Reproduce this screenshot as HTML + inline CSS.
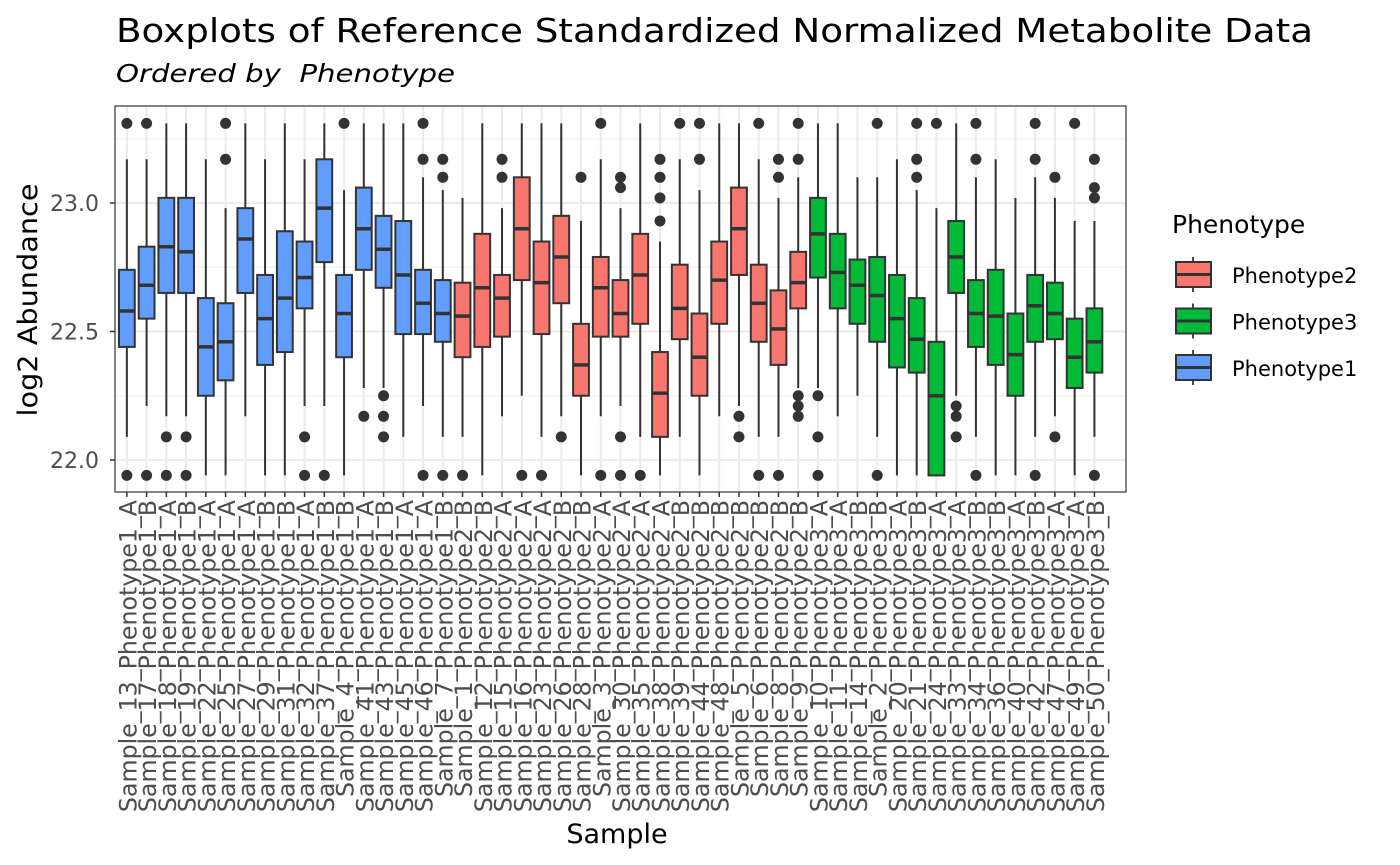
<!DOCTYPE html>
<html><head><meta charset="utf-8"><style>
body{margin:0;background:#fff;}
svg{display:block;font-family:"DejaVu Sans","Liberation Sans",sans-serif;}
</style></head><body>
<svg id="chart" width="1400" height="865" viewBox="0 0 1400 865" xmlns="http://www.w3.org/2000/svg">
<rect width="1400" height="865" fill="#fff"/>
<text x="116" y="42" font-size="32.5" textLength="1197" lengthAdjust="spacingAndGlyphs" fill="#000">Boxplots of Reference Standardized Normalized Metabolite Data</text>
<text x="116" y="82" font-size="25" font-style="italic" textLength="339" lengthAdjust="spacingAndGlyphs" fill="#000" xml:space="preserve">Ordered by  Phenotype</text>
<g id="grid"></g>
<g id="boxes"></g>
<rect x="115" y="106" width="1011" height="386" fill="none" stroke="#333" stroke-width="1.2"/>
<g id="yaxis"></g>
<g id="xaxis"></g>
<text transform="translate(37,300) rotate(-90)" text-anchor="middle" font-size="27" textLength="233" lengthAdjust="spacingAndGlyphs" fill="#000">log2 Abundance</text>
<text x="617" y="843" text-anchor="middle" font-size="27" fill="#000">Sample</text>
<g id="legend">
<text x="1172" y="233" font-size="25" fill="#000">Phenotype</text>
</g>
</svg>
<script>
const samples=["Sample_13_Phenotype1_A","Sample_17_Phenotype1_B","Sample_18_Phenotype1_A","Sample_19_Phenotype1_B","Sample_22_Phenotype1_A","Sample_25_Phenotype1_A","Sample_27_Phenotype1_A","Sample_29_Phenotype1_B","Sample_31_Phenotype1_B","Sample_32_Phenotype1_A","Sample_37_Phenotype1_B","Sample_4_Phenotype1_B","Sample_41_Phenotype1_A","Sample_43_Phenotype1_B","Sample_45_Phenotype1_A","Sample_46_Phenotype1_A","Sample_7_Phenotype1_B",
"Sample_1_Phenotype2_B","Sample_12_Phenotype2_B","Sample_15_Phenotype2_A","Sample_16_Phenotype2_A","Sample_23_Phenotype2_A","Sample_26_Phenotype2_B","Sample_28_Phenotype2_B","Sample_3_Phenotype2_A","Sample_30_Phenotype2_A","Sample_35_Phenotype2_A","Sample_38_Phenotype2_A","Sample_39_Phenotype2_B","Sample_44_Phenotype2_B","Sample_48_Phenotype2_B","Sample_5_Phenotype2_B","Sample_6_Phenotype2_B","Sample_8_Phenotype2_B","Sample_9_Phenotype2_B",
"Sample_10_Phenotype3_A","Sample_11_Phenotype3_A","Sample_14_Phenotype3_B","Sample_2_Phenotype3_B","Sample_20_Phenotype3_A","Sample_21_Phenotype3_B","Sample_24_Phenotype3_A","Sample_33_Phenotype3_A","Sample_34_Phenotype3_B","Sample_36_Phenotype3_B","Sample_40_Phenotype3_A","Sample_42_Phenotype3_B","Sample_47_Phenotype3_A","Sample_49_Phenotype3_A","Sample_50_Phenotype3_B"];
const phenotypes=["Phenotype1","Phenotype1","Phenotype1","Phenotype1","Phenotype1","Phenotype1","Phenotype1","Phenotype1","Phenotype1","Phenotype1","Phenotype1","Phenotype1","Phenotype1","Phenotype1","Phenotype1","Phenotype1","Phenotype1",
"Phenotype2","Phenotype2","Phenotype2","Phenotype2","Phenotype2","Phenotype2","Phenotype2","Phenotype2","Phenotype2","Phenotype2","Phenotype2","Phenotype2","Phenotype2","Phenotype2","Phenotype2","Phenotype2","Phenotype2","Phenotype2",
"Phenotype3","Phenotype3","Phenotype3","Phenotype3","Phenotype3","Phenotype3","Phenotype3","Phenotype3","Phenotype3","Phenotype3","Phenotype3","Phenotype3","Phenotype3","Phenotype3","Phenotype3"];
const whiskerLow=[22.09,22.21,22.17,22.17,21.94,21.94,22.17,21.94,21.94,22.21,22.21,21.94,22.28,22.28,22.09,22.21,22.09,
22.09,21.94,22.17,22.25,22.09,22.17,21.94,22.17,22.21,22.09,21.94,22.09,21.94,22.17,22.21,22.09,22.09,22.28,
22.28,22.17,22.25,22.09,21.94,21.94,21.94,22.25,22.09,21.94,21.94,22.09,22.17,21.94,22.09];
const q1=[22.44,22.55,22.65,22.65,22.25,22.31,22.65,22.37,22.42,22.59,22.77,22.40,22.74,22.67,22.49,22.49,22.46,
22.40,22.44,22.48,22.70,22.49,22.61,22.25,22.48,22.48,22.53,22.09,22.47,22.25,22.53,22.72,22.46,22.37,22.59,
22.71,22.59,22.53,22.46,22.36,22.34,21.94,22.65,22.44,22.37,22.25,22.46,22.47,22.28,22.34];
const medians=[22.58,22.68,22.83,22.81,22.44,22.46,22.86,22.55,22.63,22.71,22.98,22.57,22.90,22.82,22.72,22.61,22.57,
22.56,22.67,22.63,22.90,22.69,22.79,22.37,22.67,22.57,22.72,22.26,22.59,22.40,22.70,22.90,22.61,22.51,22.69,
22.88,22.73,22.68,22.64,22.55,22.47,22.25,22.79,22.57,22.56,22.41,22.60,22.57,22.40,22.46];
const q3=[22.74,22.83,23.02,23.02,22.63,22.61,22.98,22.72,22.89,22.85,23.17,22.72,23.06,22.95,22.93,22.74,22.70,
22.69,22.88,22.72,23.10,22.85,22.95,22.53,22.79,22.70,22.88,22.42,22.76,22.57,22.85,23.06,22.76,22.66,22.81,
23.02,22.88,22.78,22.79,22.72,22.63,22.46,22.93,22.70,22.74,22.57,22.72,22.69,22.55,22.59];
const whiskerHigh=[23.17,23.17,23.31,23.31,23.17,22.98,23.31,23.17,23.31,23.17,23.31,23.05,23.31,23.31,23.31,23.10,23.05,
23.02,23.31,22.98,23.31,23.31,23.31,22.93,23.17,22.98,23.31,22.85,23.17,23.05,23.31,23.31,23.17,23.02,23.10,
23.31,23.31,23.10,23.10,23.17,23.05,22.98,23.31,23.10,23.17,23.02,23.10,23.02,22.93,22.93];
const outliers=[[23.31,21.94],[23.31,21.94],[22.09,21.94],[22.09,21.94],[],[23.31,23.17],[],[],[],[22.09,21.94],[21.94],[23.31],[22.17],[22.25,22.17,22.09],[],[23.31,23.17,21.94],[23.17,23.10,21.94],
[21.94],[],[23.17,23.10],[21.94],[21.94],[22.09],[23.10],[23.31,21.94],[23.10,23.06,22.09,21.94],[21.94],[23.17,23.10,23.02,22.93],[23.31],[23.31,23.17],[],[22.17,22.09],[23.31,21.94],[23.17,23.10,21.94],[23.31,23.17,22.25,22.21,22.17],
[22.25,22.09,21.94],[],[],[23.31,21.94],[],[23.31,23.17,23.10],[23.31],[22.21,22.17,22.09],[23.31,23.17,21.94],[],[],[23.31,23.17,21.94],[23.10,22.09],[23.31],[23.17,23.06,23.02,21.94]];
const yTicks=[22.0,22.5,23.0];
const yTickLabels=["22.0","22.5","23.0"];
const yMinor=[22.25,22.75,23.25];
const legendOrder=["Phenotype2","Phenotype3","Phenotype1"];

const colors={Phenotype1:"#619CFF",Phenotype2:"#F8766D",Phenotype3:"#00BA38"};
const NS="http://www.w3.org/2000/svg";
const px0=115,px1=1126,pyTop=106,pyBot=492;
const n=samples.length;
const step=(px1-px0)/(n+1.2);
function xs(i){return px0+(0.6+i)*step;}
function ys(v){return 460-(v-22.0)*257;}
function mk(tag,attrs,parent){const e=document.createElementNS(NS,tag);for(const k in attrs)e.setAttribute(k,attrs[k]);parent.appendChild(e);return e;}
const grid=document.getElementById('grid');
mk('rect',{x:px0,y:pyTop,width:px1-px0,height:pyBot-pyTop,fill:'#fff'},grid);
yMinor.forEach(v=>{const l=mk('line',{x1:px0,x2:px1,y1:ys(v),y2:ys(v),stroke:'#f2f2f2','stroke-width':1.2},grid);

});
yTicks.forEach(v=>{const l=mk('line',{x1:px0,x2:px1,y1:ys(v),y2:ys(v),stroke:'#ebebeb','stroke-width':2},grid);

});
for(let i=0;i<n;i++){const l=mk('line',{x1:xs(i),x2:xs(i),y1:pyTop,y2:pyBot,stroke:'#ebebeb','stroke-width':2},grid);

}
const boxes=document.getElementById('boxes');
const bw=step*0.8;
for(let i=0;i<n;i++){
 const g=mk('g',{},boxes);
 
 
 const x=xs(i);
 mk('line',{x1:x,x2:x,y1:ys(whiskerHigh[i]),y2:ys(q3[i]),stroke:'#333','stroke-width':2},g);
 mk('line',{x1:x,x2:x,y1:ys(q1[i]),y2:ys(whiskerLow[i]),stroke:'#333','stroke-width':2},g);
 mk('rect',{x:x-bw/2,y:ys(q3[i]),width:bw,height:ys(q1[i])-ys(q3[i]),fill:colors[phenotypes[i]],stroke:'#333','stroke-width':2},g);
 mk('line',{x1:x-bw/2,x2:x+bw/2,y1:ys(medians[i]),y2:ys(medians[i]),stroke:'#333','stroke-width':3.5},g);
 outliers[i].forEach(v=>{const c=mk('circle',{cx:x,cy:ys(v),r:5.5,fill:'#333'},g);
 
 });
}
const ya=document.getElementById('yaxis');
yTicks.forEach((v,k)=>{mk('line',{x1:px0-5,x2:px0,y1:ys(v),y2:ys(v),stroke:'#333','stroke-width':1.5},ya);
 const t=mk('text',{x:px0-16,y:ys(v)+8,'text-anchor':'end','font-size':22,fill:'#4d4d4d'},ya);
 
 
 t.textContent=yTickLabels[k];});
const xa=document.getElementById('xaxis');
for(let i=0;i<n;i++){const x=xs(i);
 mk('line',{x1:x,x2:x,y1:pyBot,y2:pyBot+5,stroke:'#333','stroke-width':1.5},xa);
 const t=mk('text',{transform:`translate(${x+9.5},${pyBot+8}) rotate(-90)`,'text-anchor':'end','font-size':23.7,fill:'#4d4d4d'},xa);
 
 
 t.textContent=samples[i];}
const lg=document.getElementById('legend');
legendOrder.forEach((p,k)=>{const y0=257+k*46.5;
 const g=mk('g',{},lg);
 
 
 mk('line',{x1:1193,x2:1193,y1:y0,y2:y0+35,stroke:'#333','stroke-width':1.8},g);
 mk('rect',{x:1176,y:y0+5,width:35,height:25,fill:colors[p],stroke:'#333','stroke-width':2},g);
 mk('line',{x1:1176,x2:1211,y1:y0+17.5,y2:y0+17.5,stroke:'#333','stroke-width':3},g);
 const t=mk('text',{x:1232,y:y0+26,'font-size':21,fill:'#000'},g);
 t.textContent=p;});
</script>
</body></html>
